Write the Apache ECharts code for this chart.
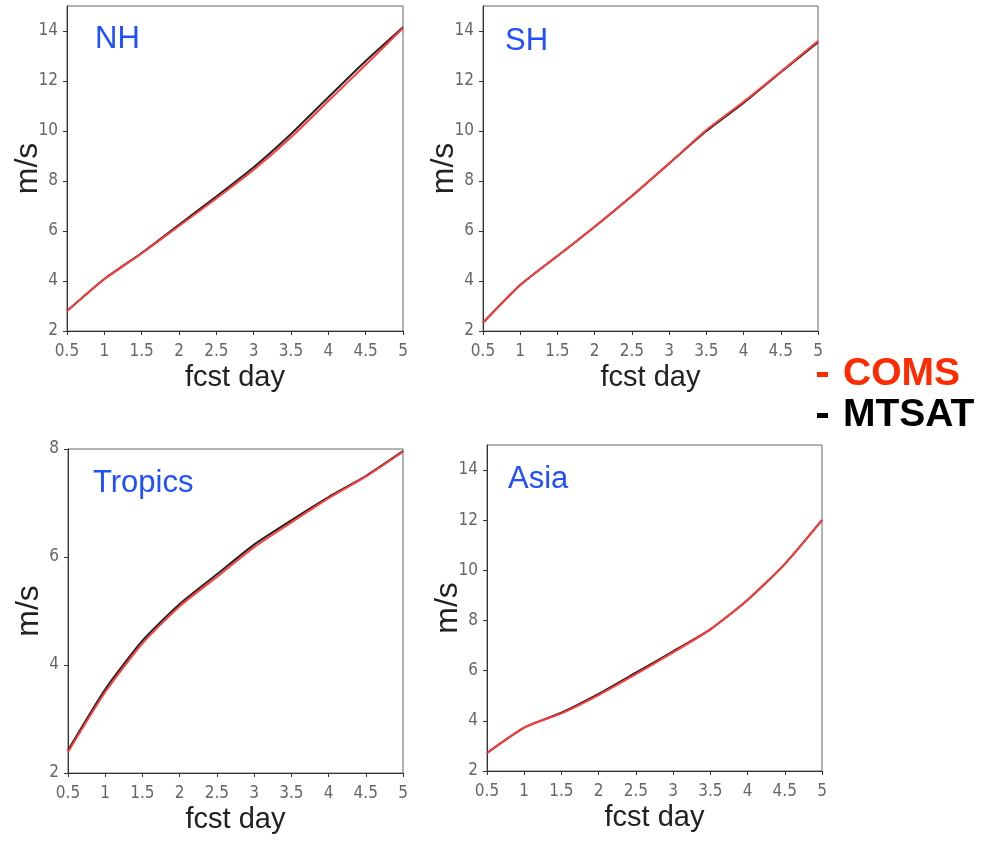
<!DOCTYPE html>
<html>
<head>
<meta charset="utf-8">
<script src="https://cdn.jsdelivr.net/npm/echarts@6/dist/echarts.min.js"></script>
<style>
  html, body { margin: 0; padding: 0; background: #fff; }
  #chart { width: 988px; height: 844px; }
</style>
</head>
<body>
<div id="chart"></div>
<script>
// forecast days (x)
const days = [0.5, 1, 1.5, 2, 2.5, 3, 3.5, 4, 4.5, 5]

// values, m/s
const nhComs = [2.8, 4.07, 5.1, 6.2, 7.3, 8.45, 9.75, 11.2, 12.65, 14.12]
const nhMtsat = [2.8, 4.08, 5.12, 6.25, 7.38, 8.55, 9.88, 11.35, 12.8, 14.15]
const shComs = [2.33, 3.84, 5.0, 6.17, 7.4, 8.7, 10.04, 11.17, 12.37, 13.6]
const shMtsat = [2.33, 3.84, 5.0, 6.17, 7.4, 8.7, 10.0, 11.12, 12.35, 13.55]
const trComs = [2.39, 3.5, 4.4, 5.09, 5.63, 6.18, 6.64, 7.09, 7.49, 7.95]
const trMtsat = [2.42, 3.55, 4.45, 5.13, 5.68, 6.23, 6.68, 7.11, 7.5, 7.96]
const asComs = [2.72, 3.73, 4.3, 5.03, 5.86, 6.73, 7.64, 8.82, 10.25, 12.0]
const asMtsat = [2.72, 3.73, 4.33, 5.08, 5.92, 6.77, 7.65, 8.82, 10.25, 12.0]

const panelNames = ['NH', 'SH', 'Tropics', 'Asia']
const yMax = [15, 15, 8, 15]

const chart = echarts.init(document.getElementById('chart'))

const grids = [
  { left: 67, top: 6, width: 336, height: 325 },
  { left: 483, top: 6, width: 335, height: 325 },
  { left: 68, top: 449, width: 335, height: 324 },
  { left: 487, top: 445, width: 335, height: 326 }
]

const tickFont = { fontFamily: "'DejaVu Sans Condensed', 'Liberation Sans Narrow', sans-serif", fontSize: 17, color: '#666' }
const nameFont = { fontFamily: 'Liberation Sans', fontSize: 29, color: '#222' }

const xAxes = grids.map((g, i) => ({
  gridIndex: i,
  type: 'value',
  min: 0.5,
  max: 5,
  interval: 0.5,
  name: 'fcst day',
  nameLocation: 'middle',
  nameGap: 32,
  nameMoveOverlap: false,
  nameTextStyle: nameFont,
  axisLine: { lineStyle: { color: '#333', width: 1 } },
  axisTick: { show: true, length: 4, lineStyle: { color: '#333' } },
  axisLabel: Object.assign({ margin: 12 }, tickFont),
  splitLine: { show: false }
}))

const yAxes = grids.map((g, i) => ({
  gridIndex: i,
  type: 'value',
  min: 2,
  max: yMax[i],
  interval: 2,
  name: 'm/s',
  nameLocation: 'middle',
  nameGap: 23,
  nameMoveOverlap: false,
  nameTextStyle: Object.assign({}, nameFont, { fontSize: 32 }),
  axisLine: { show: true, lineStyle: { color: '#333', width: 1 } },
  axisTick: { show: true, length: 4, lineStyle: { color: '#333' } },
  axisLabel: Object.assign({ margin: 9, showMaxLabel: yMax[i] === 8 }, tickFont),
  splitLine: { show: false }
}))

const pairs = [[nhMtsat, nhComs], [shMtsat, shComs], [trMtsat, trComs], [asMtsat, asComs]]
const series = []
pairs.forEach((p, i) => {
  series.push({
    name: 'MTSAT', type: 'line', xAxisIndex: i, yAxisIndex: i,
    data: days.map((d, k) => [d, p[0][k]]),
    showSymbol: false, smooth: 0.2,
    lineStyle: { color: '#222', width: 2 }, itemStyle: { color: '#000' }
  })
  series.push({
    name: 'COMS', type: 'line', xAxisIndex: i, yAxisIndex: i,
    data: days.map((d, k) => [d, p[1][k]]),
    showSymbol: false, smooth: 0.2,
    lineStyle: { color: '#ff3b3b', width: 2 }, itemStyle: { color: '#ff2a00' }
  })
})

const titlePos = [[90, 19], [500, 21], [88, 463], [503, 459]]

const option = {
  animation: false,
  backgroundColor: '#fff',
  grid: grids.map(g => Object.assign({ show: true, borderColor: '#666', borderWidth: 1, containLabel: false }, g)),
  title: panelNames.map((n, i) => ({
    text: n,
    left: titlePos[i][0],
    top: titlePos[i][1],
    textStyle: { fontFamily: 'Liberation Sans', fontWeight: 'normal', fontSize: 31, color: '#1f4fff' }
  })),
  legend: {
    orient: 'vertical',
    left: 812,
    top: 350,
    itemGap: 2,
    itemWidth: 11,
    itemHeight: 5,
    icon: 'rect',
    data: [
      { name: 'COMS', textStyle: { color: '#ff2a00' } },
      { name: 'MTSAT', textStyle: { color: '#000' } }
    ],
    textStyle: { fontFamily: 'Liberation Sans', fontWeight: 'bold', fontSize: 39, padding: [0, 0, 0, 10] }
  },
  xAxis: xAxes,
  yAxis: yAxes,
  series: series
}

chart.setOption(option)
</script>
</body>
</html>
